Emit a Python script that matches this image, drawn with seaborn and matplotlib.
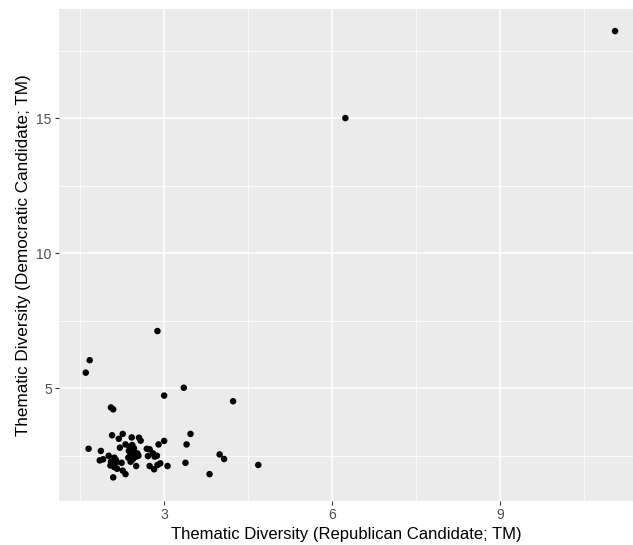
import matplotlib
matplotlib.use('Agg')
import matplotlib.pyplot as plt
from matplotlib.ticker import MultipleLocator
import seaborn as sns
import pandas

# thematic diversity per race: republican (x) vs democratic (y)
republican = [2.88, 1.67, 1.60, 3.35, 3.00, 4.23, 2.05, 2.09, 3.47, 2.07,
              2.26, 2.19, 2.42, 2.55, 2.58, 3.00, 2.90, 3.40, 1.65, 2.21,
              2.31, 2.43, 2.46, 2.37, 2.40, 2.50, 2.54, 2.36, 2.44, 2.69,
              2.74, 2.71, 2.80, 2.83, 2.87, 1.87, 2.01, 1.91, 1.85, 2.11,
              2.05, 2.14, 2.24, 2.11, 2.09, 2.26, 2.31, 2.40, 2.50, 2.74,
              2.82, 2.88, 2.93, 3.06, 3.38, 3.99, 4.07, 3.81, 4.68, 2.04,
              2.16, 2.46, 2.52, 2.38, 2.14, 6.235, 11.05]
democratic = [7.11, 6.03, 5.57, 5.01, 4.72, 4.51, 4.28, 4.21, 3.30, 3.25,
              3.30, 3.12, 3.17, 3.16, 3.05, 3.04, 2.91, 2.91, 2.75, 2.79,
              2.91, 2.89, 2.77, 2.67, 2.52, 2.46, 2.49, 2.42, 2.36, 2.75,
              2.73, 2.48, 2.58, 2.46, 2.49, 2.67, 2.49, 2.36, 2.32, 2.42,
              2.27, 2.23, 2.23, 2.07, 1.69, 1.94, 1.81, 2.27, 2.11, 2.11,
              1.99, 2.15, 2.21, 2.11, 2.23, 2.54, 2.37, 1.81, 2.15, 2.13,
              2.01, 2.62, 2.58, 2.82, 2.33, 15.0, 18.22]

df = pandas.DataFrame({'rep': republican, 'dem': democratic})

plt.rcParams['font.family'] = ['Liberation Sans', 'DejaVu Sans']
fig = plt.figure(figsize=(6.33, 5.45), dpi=100)
ax = fig.add_axes([58.7 / 633, 1 - 501.4 / 545, 1 - 58.7 / 633, (501.4 - 9) / 545])
ax.set_facecolor('#EBEBEB')

sns.scatterplot(df, x='rep', y='dem', ax=ax, color='black', s=22,
                linewidth=0, edgecolor='none', zorder=3)

ax.set_xlim(1.117, 11.37)
ax.set_ylim(0.80, 19.04)
ax.xaxis.set_major_locator(MultipleLocator(3))
ax.xaxis.set_minor_locator(MultipleLocator(1.5))
ax.yaxis.set_major_locator(MultipleLocator(5))
ax.yaxis.set_minor_locator(MultipleLocator(2.5))
ax.grid(which='major', color='white', linewidth=1.1, zorder=0)
ax.grid(which='minor', color='white', linewidth=0.55, zorder=0)
ax.set_axisbelow(True)
for sp in ax.spines.values():
    sp.set_visible(False)
ax.tick_params(which='major', length=3, width=0.8, color='#333333',
               labelcolor='#4D4D4D', labelsize=10, pad=2)
ax.tick_params(which='minor', length=0)

ax.set_xlabel('Thematic Diversity (Republican Candidate; TM)', fontsize=12,
              color='black', labelpad=3)
ax.set_ylabel('Thematic Diversity (Democratic Candidate; TM)', fontsize=12.3,
              color='black', labelpad=4)

fig.savefig('out.png', dpi=100)
